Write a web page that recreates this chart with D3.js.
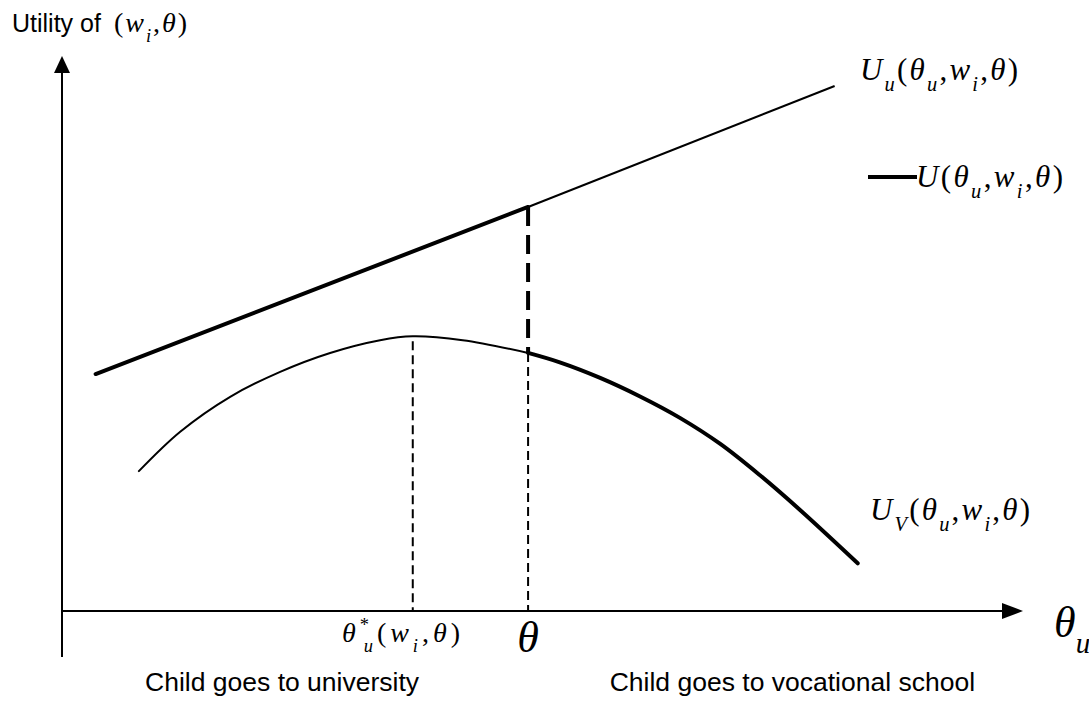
<!DOCTYPE html>
<html>
<head>
<meta charset="utf-8">
<script src="https://cdn.jsdelivr.net/npm/d3@7"></script>
<style>
  body { margin: 0; background: #fff; }
</style>
</head>
<body>
<script>
// utility of university (straight line) and vocational school (hump)
const uuX = [0.35, 4.85, 8.04];
const uuY = [4.27, 7.28, 9.46];
const uvX = [0.80, 1.23, 1.75, 2.27, 2.79, 3.31, 3.65, 4.17, 4.85, 5.18, 5.60, 6.01, 6.43, 6.85, 7.26, 7.68, 8.28];
const uvY = [2.52, 3.23, 3.86, 4.31, 4.65, 4.88, 4.95, 4.88, 4.65, 4.48, 4.20, 3.87, 3.48, 3.01, 2.45, 1.82, 0.86];
const theta = 4.85;
const thetaStar = 3.65;
const regionLabels = ['Child goes to university', 'Child goes to vocational school'];
const regionX = [2.29, 7.6];

const width = 1089, height = 702;
const margin = {left: 62, right: 66, top: 56, bottom: 91};

const svg = d3.select('body')
    .append('svg')
    .attr('width', width)
    .attr('height', height);

const x = d3.scaleLinear()
    .domain([0, 10])
    .range([margin.left, width - margin.right]);

const y = d3.scaleLinear()
    .domain([0, 10])
    .range([height - margin.bottom, margin.top]);

const uu = uuX.map((v, i) => ({x: v, y: uuY[i]}));
const uv = uvX.map((v, i) => ({x: v, y: uvY[i]}));

// axes with arrow heads
const x0 = x(0), y0 = y(0);
svg.append('line')
    .attr('x1', x0).attr('x2', x0)
    .attr('y1', y0 + 46).attr('y2', y(10) + 16)
    .attr('stroke', '#000').attr('stroke-width', 2);
svg.append('path')
    .attr('d', `M${x0},${y(10)} L${x0 - 8},${y(10) + 17} L${x0 + 8},${y(10) + 17} Z`)
    .attr('fill', '#000');
svg.append('line')
    .attr('x1', x0).attr('x2', x(10) - 18)
    .attr('y1', y0).attr('y2', y0)
    .attr('stroke', '#000').attr('stroke-width', 2);
svg.append('path')
    .attr('d', `M${x(10)},${y0} L${x(10) - 21},${y0 - 8} L${x(10) - 21},${y0 + 8} Z`)
    .attr('fill', '#000');

const line = d3.line()
    .x(d => x(d.x))
    .y(d => y(d.y));
const curve = d3.line()
    .x(d => x(d.x))
    .y(d => y(d.y))
    .curve(d3.curveCatmullRom.alpha(0.5));

// U_u: thick left of theta, thin right of it
svg.append('path')
    .attr('d', line(uu.filter(d => d.x <= theta)))
    .attr('fill', 'none').attr('stroke', '#000').attr('stroke-width', 4).attr('stroke-linecap', 'round');
svg.append('path')
    .attr('d', line(uu.filter(d => d.x >= theta)))
    .attr('fill', 'none').attr('stroke', '#000').attr('stroke-width', 2);

// U_V: thin left of theta, thick right of it
svg.append('path')
    .attr('d', curve(uv.filter(d => d.x <= theta)))
    .attr('fill', 'none').attr('stroke', '#000').attr('stroke-width', 2).attr('stroke-linecap', 'round');
svg.append('path')
    .attr('d', curve(uv.filter(d => d.x >= theta)))
    .attr('fill', 'none').attr('stroke', '#000').attr('stroke-width', 4).attr('stroke-linecap', 'round');

// dashed guides
const uuTheta = uuY[uuX.indexOf(theta)];
const uvTheta = uvY[uvX.indexOf(theta)];
const uvStar = uvY[uvX.indexOf(thetaStar)];
svg.append('line')
    .attr('x1', x(theta)).attr('x2', x(theta))
    .attr('y1', y(uuTheta)).attr('y2', y(uvTheta))
    .attr('stroke', '#000').attr('stroke-width', 4).attr('stroke-dasharray', '19,9');
svg.append('line')
    .attr('x1', x(theta)).attr('x2', x(theta))
    .attr('y1', y(uvTheta)).attr('y2', y0)
    .attr('stroke', '#000').attr('stroke-width', 2).attr('stroke-dasharray', '9,5');
svg.append('line')
    .attr('x1', x(thetaStar)).attr('x2', x(thetaStar))
    .attr('y1', y(uvStar) + 5).attr('y2', y0)
    .attr('stroke', '#000').attr('stroke-width', 2).attr('stroke-dasharray', '9,5');

// legend stroke for U
svg.append('line')
    .attr('x1', 868).attr('x2', 917)
    .attr('y1', 177).attr('y2', 177)
    .attr('stroke', '#000').attr('stroke-width', 4);

// math labels: parts are [text, position, italic]
const serif = '"Liberation Serif", "Times New Roman", serif';
const sans = '"Liberation Sans", Arial, sans-serif';

function mathLabel(px, py, parts, size, len) {
    const t = svg.append('text')
        .attr('x', px).attr('y', py)
        .attr('font-family', serif)
        .attr('font-size', size);
    let shift = 0, prev = null;
    parts.forEach(([s, pos, it]) => {
        const target = pos === 'sub' || pos === 'subback' ? size * 0.36 : pos === 'sup' ? -size * 0.4 : 0;
        const ts = t.append('tspan')
            .attr('dy', target - shift)
            .attr('font-size', pos ? size * 0.66 : size)
            .attr('font-style', it ? 'italic' : 'normal')
            .text(s);
        if (pos === 'subback' && prev) ts.attr('dx', -prev.node().getComputedTextLength());
        shift = target;
        prev = ts;
    });
    if (len) t.attr('textLength', len).attr('lengthAdjust', 'spacing');
    return t;
}

svg.append('text')
    .attr('x', 12).attr('y', 32)
    .attr('font-family', sans).attr('font-size', 25)
    .text('Utility of');
mathLabel(114, 32, [['(', null, false], ['w', null, true], ['i', 'sub', true], [',', null, false], ['θ', null, true], [')', null, false]], 28, 73);

mathLabel(860, 80, [['U', null, true], ['u', 'sub', true], ['(', null, false], ['θ', null, true], ['u', 'sub', true], [',', null, false],
    ['w', null, true], ['i', 'sub', true], [',', null, false], ['θ', null, true], [')', null, false]], 31, 158);
mathLabel(916, 187, [['U', null, true], ['(', null, false], ['θ', null, true], ['u', 'sub', true], [',', null, false],
    ['w', null, true], ['i', 'sub', true], [',', null, false], ['θ', null, true], [')', null, false]], 31, 147);
mathLabel(870, 520, [['U', null, true], ['V', 'sub', true], ['(', null, false], ['θ', null, true], ['u', 'sub', true], [',', null, false],
    ['w', null, true], ['i', 'sub', true], [',', null, false], ['θ', null, true], [')', null, false]], 31, 160);

mathLabel(342, 642, [['θ', null, true], ['*', 'sup', false], ['u', 'subback', true], ['(', null, false],
    ['w', null, true], ['i', 'sub', true], [',', null, false], ['θ', null, true], [')', null, false]], 28, 118);

svg.append('text')
    .attr('x', x(theta)).attr('y', 652)
    .attr('text-anchor', 'middle')
    .attr('font-family', serif).attr('font-style', 'italic').attr('font-size', 44)
    .text('θ');
mathLabel(1054, 637, [['θ', null, true], ['u', 'sub', true]], 44);

svg.selectAll('.region')
    .data(regionLabels)
    .enter()
    .append('text')
    .attr('class', 'region')
    .attr('x', (d, i) => x(regionX[i]))
    .attr('y', 691)
    .attr('text-anchor', 'middle')
    .attr('font-family', sans).attr('font-size', 26.5)
    .text(d => d);
</script>
</body>
</html>
